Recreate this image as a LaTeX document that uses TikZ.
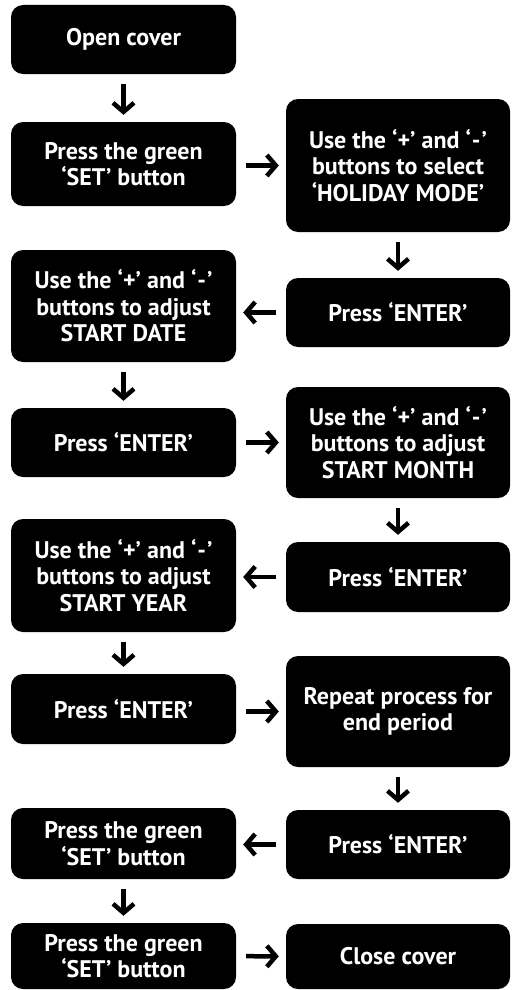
\documentclass[tikz,border=0pt]{standalone}
\usepackage{fontspec}
\setmainfont{PT Sans}
\usetikzlibrary{arrows.meta}

\newcommand{\minuskey}{‘\kern1pt\mbox{-}\kern1pt’}

\begin{document}
\begin{tikzpicture}[x=1pt,y=1pt, % one unit per pixel
  stepbox/.style={fill=black,rounded corners=12pt,text=white,align=center,
    inner sep=0pt,font=\fontsize{24}{26.5}\selectfont\bfseries},
  leftbox/.style={stepbox,minimum width=225pt},
  rightbox/.style={stepbox,minimum width=224pt},
  flow/.style={line width=4.5pt,shorten <=10pt,shorten >=7pt,
    -{Straight Barb[length=9pt,width=21pt]}}]
\useasboundingbox (0,0) rectangle (514,-990);

% left column
\node[leftbox,minimum height=69pt] (open) at (123.5,-39.5) {Open cover};
\node[leftbox,minimum height=84pt] (setone) at (123.5,-164) {Press the green\\‘SET’ button};
\node[leftbox,minimum height=112pt] (date) at (123.5,-306) {Use the ‘+’ and \minuskey\\buttons to adjust\\START DATE};
\node[leftbox,minimum height=69pt] (entertwo) at (123.5,-442.5) {Press ‘ENTER’};
\node[leftbox,minimum height=113pt] (year) at (123.5,-575.5) {Use the ‘+’ and \minuskey\\buttons to adjust\\START YEAR};
\node[leftbox,minimum height=70pt] (enterfour) at (123.5,-709) {Press ‘ENTER’};
\node[leftbox,minimum height=71pt] (settwo) at (123.5,-843.5) {Press the green\\‘SET’ button};
\node[leftbox,minimum height=66pt] (setthree) at (123.5,-956) {Press the green\\‘SET’ button};

% right column
\node[rightbox,minimum height=133pt] (holiday) at (398,-165.5) {Use the ‘+’ and \minuskey\\buttons to select\\‘HOLIDAY MODE’};
\node[rightbox,minimum height=69pt] (enterone) at (398,-312.5) {Press ‘ENTER’};
\node[rightbox,minimum height=111pt] (month) at (398,-442.5) {Use the ‘+’ and \minuskey\\buttons to adjust\\START MONTH};
\node[rightbox,minimum height=70pt] (enterthree) at (398,-577) {Press ‘ENTER’};
\node[rightbox,minimum height=111pt] (repeat) at (398,-711.5) {Repeat process for\\end period};
\node[rightbox,minimum height=69pt] (enterfive) at (398,-844.5) {Press ‘ENTER’};
\node[rightbox,minimum height=65pt] (close) at (398,-956.5) {Close cover};

% arrows
\draw[flow] (open) -- (setone);
\draw[flow] (setone.east |- holiday.west) -- (holiday.west);
\draw[flow] (holiday) -- (enterone);
\draw[flow] (enterone.west) -- (date.east |- enterone.west);
\draw[flow] (date) -- (entertwo);
\draw[flow] (entertwo) -- (month);
\draw[flow] (month) -- (enterthree);
\draw[flow] (enterthree.west) -- (year.east |- enterthree.west);
\draw[flow] (year) -- (enterfour);
\draw[flow] (enterfour.east |- repeat.west) -- (repeat.west);
\draw[flow] (repeat) -- (enterfive);
\draw[flow] (enterfive.west) -- (settwo.east |- enterfive.west);
\draw[flow] (settwo) -- (setthree);
\draw[flow] (setthree) -- (close);

\end{tikzpicture}
\end{document}
